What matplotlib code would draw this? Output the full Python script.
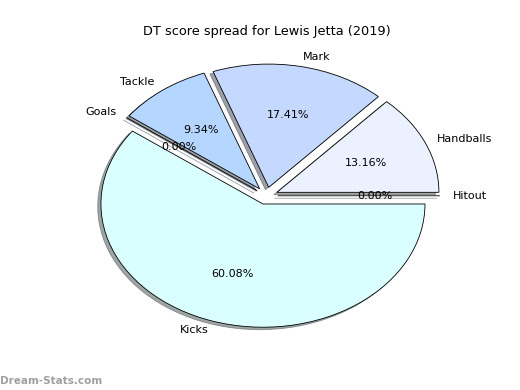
import matplotlib
matplotlib.use("Agg")
import matplotlib.pyplot as plt

labels = ["Handballs", "Mark", "Tackle", "Goals", "Kicks", "Hitout"]
values = [13.163, 17.412, 9.343, 0.0, 60.082, 0.0]
colors = ["#ebf1ff", "#c5d8ff", "#b5d7ff", "#a8c8ff", "#daffff", "#e0e8ff"]
explode = [0.07, 0.07, 0.07, 0.07, 0.07, 0.07]

fig = plt.figure(figsize=(5.2, 3.9), dpi=100)
ax = fig.add_axes([0.123, 0.103, 0.779, 0.79])
ax.pie(
    values,
    labels=labels,
    colors=colors,
    explode=explode,
    autopct="%1.2f%%",
    labeldistance=1.08,
    shadow={"ox": -0.0144, "oy": -0.0144},
    wedgeprops={"edgecolor": "black", "linewidth": 0.6},
    textprops={"fontsize": 8},
)
ax.set_aspect("auto")
ax.set_xlim(-1.25, 1.25)
ax.set_ylim(-1.25, 1.25)
ax.set_title("DT score spread for Lewis Jetta (2019)", fontsize=9.3, pad=5)

fig.text(0.0, 0.015, "Dream-Stats.com", color="#888888", fontsize=7.5,
         fontweight="bold", alpha=0.8)

plt.savefig("out.png", dpi=100)
